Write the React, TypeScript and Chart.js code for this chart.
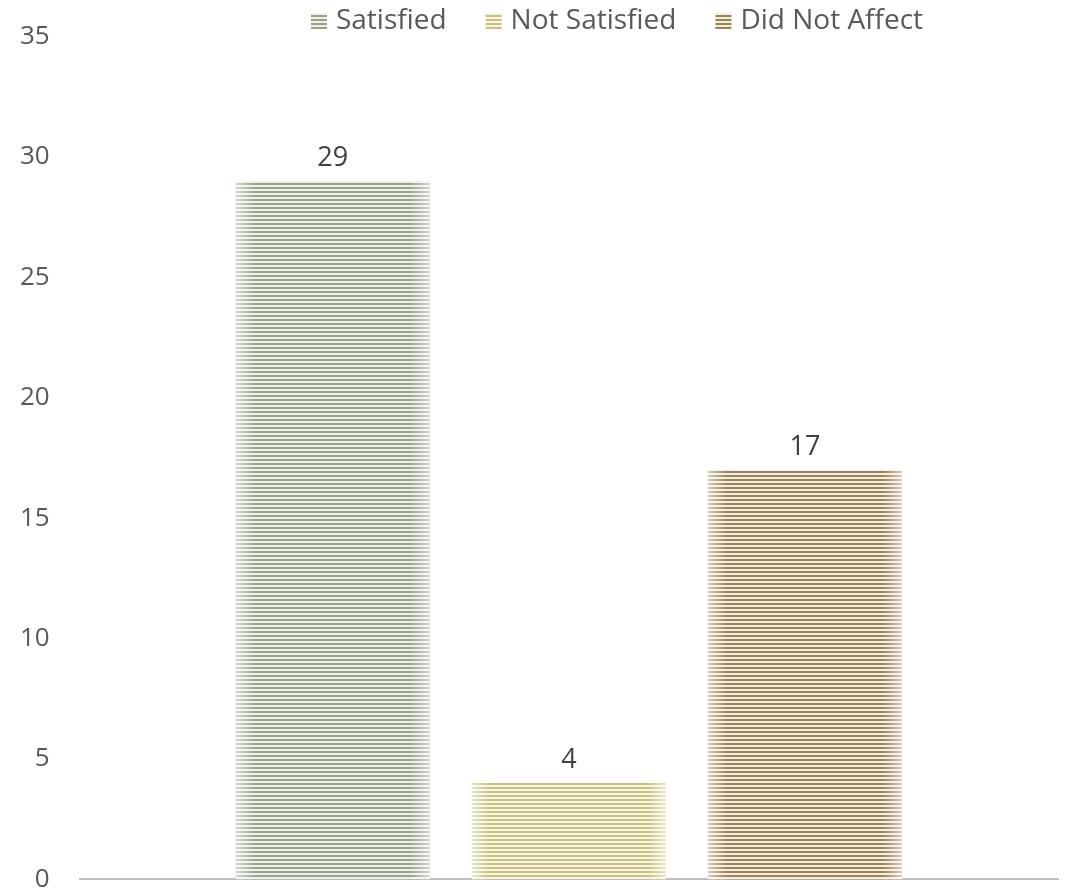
import React, { useEffect, useRef } from "react";
import { Chart, registerables } from "chart.js";

Chart.register(...registerables);

const categories = [""];
const seriesNames = ["Satisfied", "Not Satisfied", "Did Not Affect"];
const satisfiedValues = [29];
const notSatisfiedValues = [4];
const didNotAffectValues = [17];
const yMin = 0;
const yMax = 35;
const yStep = 5;

const darkStripes = ["#97a389", "#c6bf7d", "#9a8356"];
const lightStripes = ["#eef0ea", "#f6f4e2", "#f3ece0"];

const FONT = "'Open Sans'";

function makeStripePattern(dark: string, light: string): CanvasPattern | string {
  const c = document.createElement("canvas");
  c.width = 4;
  c.height = 4;
  const ctx = c.getContext("2d");
  if (!ctx) return dark;
  ctx.fillStyle = light;
  ctx.fillRect(0, 0, 4, 4);
  ctx.fillStyle = dark;
  ctx.fillRect(0, 0, 4, 2);
  const p = ctx.createPattern(c, "repeat");
  return p || dark;
}

const barShadePlugin = {
  id: "barShade",
  afterDatasetsDraw(chart: any) {
    const ctx = chart.ctx;
    ctx.save();
    chart.data.datasets.forEach((_ds: any, i: number) => {
      const meta = chart.getDatasetMeta(i);
      meta.data.forEach((bar: any) => {
        const left = bar.x - bar.width / 2;
        const right = bar.x + bar.width / 2;
        const top = bar.y;
        const bottom = bar.base;
        const g = ctx.createLinearGradient(left, 0, right, 0);
        g.addColorStop(0, "rgba(255,255,255,0.6)");
        g.addColorStop(0.1, "rgba(255,255,255,0)");
        g.addColorStop(0.9, "rgba(255,255,255,0)");
        g.addColorStop(1, "rgba(255,255,255,0.6)");
        ctx.fillStyle = g;
        ctx.fillRect(left, top, right - left, bottom - top);
      });
    });
    ctx.restore();
  },
};

const valueLabelPlugin = {
  id: "valueLabels",
  afterDatasetsDraw(chart: any) {
    const ctx = chart.ctx;
    ctx.save();
    ctx.font = `27px ${FONT}`;
    ctx.fillStyle = "#404040";
    ctx.textAlign = "center";
    ctx.textBaseline = "middle";
    chart.data.datasets.forEach((ds: any, i: number) => {
      const meta = chart.getDatasetMeta(i);
      meta.data.forEach((bar: any, j: number) => {
        ctx.fillText(String(ds.data[j]), bar.x, bar.y - 23);
      });
    });
    ctx.restore();
  },
};

const customLegendPlugin = {
  id: "customLegend",
  afterDraw(chart: any) {
    const ctx = chart.ctx;
    ctx.save();
    ctx.font = `28px ${FONT}`;
    ctx.textBaseline = "middle";
    ctx.textAlign = "left";
    const box = 16;
    const boxGap = 9;
    const itemGap = 39;
    const cy = 30;
    const widths = chart.data.datasets.map(
      (ds: any) => box + boxGap + ctx.measureText(ds.label).width
    );
    const total = widths.reduce((a: number, b: number) => a + b, 0) + itemGap * (widths.length - 1);
    let x = 645 - total / 2;
    chart.data.datasets.forEach((ds: any, i: number) => {
      ctx.fillStyle = ds.backgroundColor;
      ctx.fillRect(x, cy - box / 2, box, box);
      ctx.fillStyle = "#595959";
      ctx.fillText(ds.label, x + box + boxGap, cy);
      x += widths[i] + itemGap;
    });
    ctx.restore();
  },
};

export default function App() {
  const canvasRef = useRef<HTMLCanvasElement | null>(null);

  useEffect(() => {
    if (!canvasRef.current) return;
    const values = [satisfiedValues, notSatisfiedValues, didNotAffectValues];
    const chart = new Chart(canvasRef.current, {
      type: "bar",
      data: {
        labels: categories,
        datasets: seriesNames.map((name, i) => ({
          label: name,
          data: values[i],
          backgroundColor: makeStripePattern(darkStripes[i], lightStripes[i]),
          borderWidth: 0,
          categoryPercentage: 0.724,
          barPercentage: 0.822,
        })),
      },
      options: {
        animation: false,
        responsive: true,
        maintainAspectRatio: false,
        layout: { padding: { left: 18, right: 18, top: 26, bottom: 0 } },
        plugins: {
          tooltip: { enabled: false },
          legend: { display: false },
        },
        scales: {
          x: {
            grid: { display: false, drawTicks: false },
            border: { display: true, color: "#bfbfbf", width: 2 },
            ticks: { display: false },
          },
          y: {
            min: yMin,
            max: yMax,
            grid: { display: false, drawTicks: false },
            border: { display: false },
            ticks: {
              stepSize: yStep,
              padding: 30,
              color: "#595959",
              font: { family: FONT, size: 26 },
            },
          },
        },
      },
      plugins: [barShadePlugin, valueLabelPlugin, customLegendPlugin],
    });
    return () => chart.destroy();
  }, []);

  return (
    <div style={{ position: "absolute", left: 0, top: 0, width: 1076, height: 890, overflow: "hidden", background: "#fff" }}>
      <div style={{ position: "absolute", left: -28, top: -9, width: 1104, height: 934 }}>
        <canvas ref={canvasRef} />
      </div>
    </div>
  );
}
